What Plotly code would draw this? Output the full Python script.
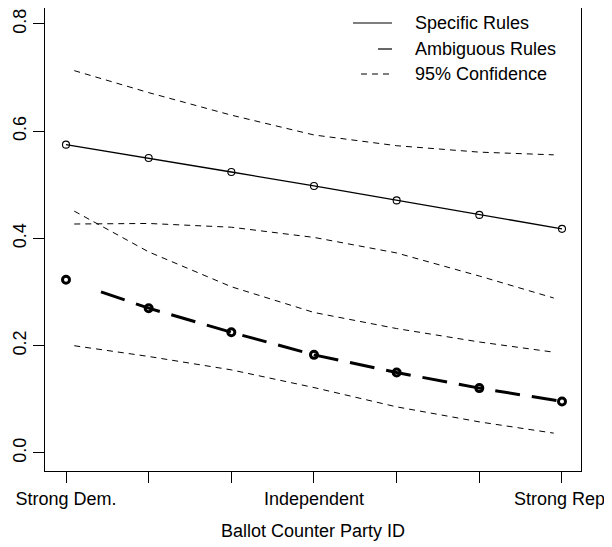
import plotly.graph_objects as go

# ---- data ----
party_x = [1, 2, 3, 4, 5, 6, 7]
tick_labels = ["Strong Dem.", "", "", "Independent", "", "", "Strong Rep."]
specific = [0.575, 0.550, 0.524, 0.498, 0.471, 0.444, 0.418]
ambiguous = [0.323, 0.270, 0.225, 0.183, 0.150, 0.121, 0.096]

ci_x = [1.1, 2, 3, 4, 5, 6, 6.9]
spec_upper = [0.713, 0.672, 0.630, 0.593, 0.573, 0.561, 0.556]
spec_lower = [0.427, 0.428, 0.421, 0.402, 0.373, 0.330, 0.289]
amb_upper = [0.451, 0.375, 0.310, 0.262, 0.232, 0.207, 0.188]
amb_lower = [0.200, 0.180, 0.155, 0.122, 0.086, 0.058, 0.037]

legend_labels = ["Specific Rules", "Ambiguous Rules", "95% Confidence"]

FONT = "Liberation Sans, Arial, Helvetica, sans-serif"
FS = 18

# page body has an 8px default margin; figure is sized to fit inside window
OFF = 8

fig = go.Figure()

ci_dash = "6px,5px"
for ys in (spec_upper, spec_lower, amb_upper, amb_lower):
    fig.add_trace(go.Scatter(x=ci_x, y=ys, mode="lines",
                             line=dict(color="black", width=1, dash=ci_dash),
                             showlegend=False, hoverinfo="skip"))

fig.add_trace(go.Scatter(x=party_x, y=specific, mode="lines+markers",
                         line=dict(color="black", width=1.3),
                         marker=dict(symbol="circle-open", size=7,
                                     color="black", line=dict(width=1.1)),
                         showlegend=False))

amb_dash = "0px,37px," + ",".join(["25px,12px"] * 14)
fig.add_trace(go.Scatter(x=party_x, y=ambiguous, mode="lines",
                         line=dict(color="black", width=3, dash=amb_dash),
                         showlegend=False))
fig.add_trace(go.Scatter(x=party_x, y=ambiguous, mode="markers",
                         marker=dict(symbol="circle-open", size=7,
                                     color="black", line=dict(width=3)),
                         showlegend=False))

# ---- manual legend (R style, no box); screen px -> paper ----
X0, X1, Y0, Y1 = 45.0, 581.0, 8.0, 471.0
def px(x):
    return (x - X0) / (X1 - X0)
def py(y):
    return (Y1 - y) / (Y1 - Y0)

legend_rows = [23, 49, 74]
samples = [(353, 392, "solid"), (378, 392, "solid"), (361, 392, "6px,5px")]
for (x0, x1, d), yy, lab in zip(samples, legend_rows, legend_labels):
    fig.add_shape(type="line", xref="paper", yref="paper",
                  x0=px(x0), x1=px(x1), y0=py(yy), y1=py(yy),
                  line=dict(color="black", width=1.2, dash=d))
    fig.add_annotation(xref="paper", yref="paper", x=px(413), y=py(yy),
                       text=lab, showarrow=False, xanchor="left",
                       yanchor="middle",
                       font=dict(family=FONT, size=FS, color="black"))

fig.update_layout(
    width=612 - OFF, height=547 - OFF,
    margin=dict(l=45 - OFF, r=31, t=0, b=76),
    paper_bgcolor="white", plot_bgcolor="white",
    font=dict(family=FONT, size=FS, color="black"),
    xaxis=dict(range=[0.746, 7.23], tickmode="array", tickvals=party_x,
               ticktext=tick_labels, ticks="outside", ticklen=11,
               tickcolor="black", showgrid=False, zeroline=False,
               showline=True, mirror=True, linecolor="black", linewidth=1,
               title=dict(text="Ballot Counter Party ID",
                          font=dict(family=FONT, size=FS), standoff=16),
               tickfont=dict(family=FONT, size=FS)),
    yaxis=dict(range=[-0.0336, 0.8298], tickmode="array",
               tickvals=[0, 0.2, 0.4, 0.6, 0.8],
               ticktext=["0.0", "0.2", "0.4", "0.6", "0.8"],
               ticks="outside", ticklen=11, tickcolor="black",
               tickangle=-90, showgrid=False, zeroline=False,
               showline=True, mirror=True, linecolor="black", linewidth=1,
               tickfont=dict(family=FONT, size=FS)),
)

fig.write_html("out.html")
